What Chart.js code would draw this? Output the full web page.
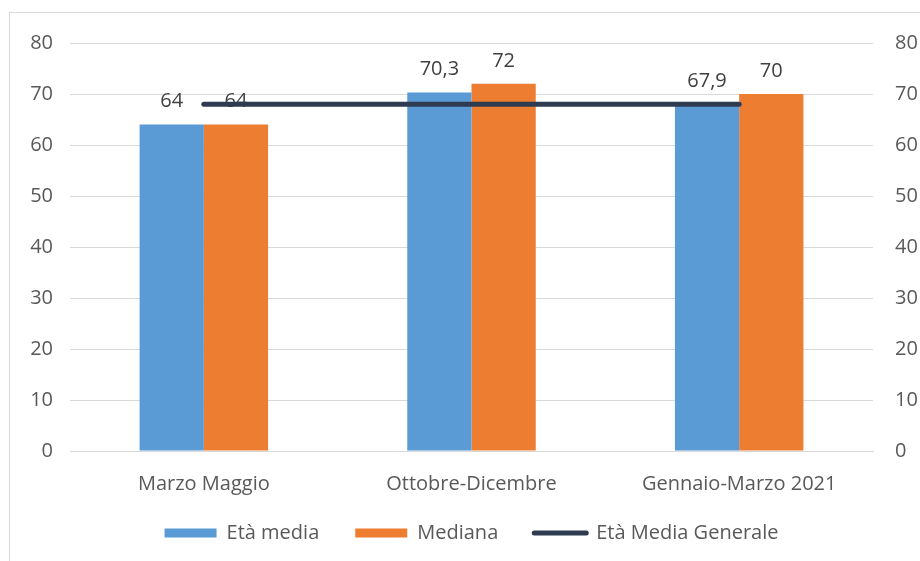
<!DOCTYPE html>
<html>
<head>
<meta charset="utf-8">
<script src="https://cdn.jsdelivr.net/npm/chart.js@4.4.1/dist/chart.umd.min.js"></script>
<style>
  body { margin: 0; background: #fff; }
  .frame { position: absolute; left: 9px; top: 12px; width: 1000px; height: 700px; border: 1px solid #d9d9d9; }
  .wrap { position: absolute; left: 0; top: 0; width: 920px; height: 561px; }
</style>
</head>
<body>
<div class="frame"></div>
<div class="wrap"><canvas id="myChart"></canvas></div>
<script>
const periodi = ['Marzo Maggio', 'Ottobre-Dicembre', 'Gennaio-Marzo 2021'];
const etaMedia = [64, 70.3, 67.9];
const mediana = [64, 72, 70];
const etaMediaGenerale = [68, 68, 68];
const yTicks = [0, 10, 20, 30, 40, 50, 60, 70, 80];

const FONT = "'Open Sans', 'Noto Sans', sans-serif";
const GREY = '#595959';

// numeri sopra le barre, con la virgola decimale
const etichette = {
	id: 'etichette',
	afterDatasetDraw(chart, args) {
		const ds = chart.data.datasets[args.index];
		if (ds.type === 'line') return;
		const ctx = chart.ctx;
		ctx.save();
		ctx.font = '20px ' + FONT;
		ctx.fillStyle = '#404040';
		ctx.textAlign = 'center';
		ctx.textBaseline = 'middle';
		args.meta.data.forEach((el, i) => {
			ctx.fillText(String(ds.data[i]).replace('.', ','), el.x, el.y - 23);
		});
		ctx.restore();
	}
};

const ctx = document.getElementById('myChart');

new Chart(ctx, {
	type: 'bar',
	data: {
		labels: periodi,
		datasets: [{
			label: 'Età media',
			data: etaMedia,
			backgroundColor: '#5B9BD5',
			order: 1
		}, {
			label: 'Mediana',
			data: mediana,
			backgroundColor: '#ED7D31',
			order: 1
		}, {
			type: 'line',
			label: 'Età Media Generale',
			data: etaMediaGenerale,
			borderColor: '#2F3B50',
			backgroundColor: '#2F3B50',
			borderWidth: 5,
			borderCapStyle: 'round',
			pointRadius: 0,
			order: 0
		}]
	},
	options: {
		responsive: true,
		maintainAspectRatio: false,
		animation: false,
		layout: { padding: { top: 43, left: 0, right: 0, bottom: 8 } },
		datasets: {
			bar: { categoryPercentage: 0.48, barPercentage: 1 }
		},
		plugins: {
			tooltip: { enabled: false },
			legend: {
				position: 'bottom',
				fullSize: false,
				labels: {
					usePointStyle: true,
					pointStyleWidth: 52,
					boxHeight: 9,
					padding: 36,
					color: GREY,
					font: { family: FONT, size: 20 },
					sort: (a, b) => a.datasetIndex - b.datasetIndex,
					generateLabels: (chart) => chart.data.datasets.map((ds, i) => ({
						text: ds.label,
						datasetIndex: i,
						fillStyle: ds.backgroundColor,
						strokeStyle: ds.type === 'line' ? ds.borderColor : ds.backgroundColor,
						lineWidth: ds.type === 'line' ? 5 : 0,
						lineCap: 'round',
						pointStyle: ds.type === 'line' ? 'line' : 'rect',
						fontColor: GREY,
						hidden: false
					}))
				}
			}
		},
		scales: {
			x: {
				grid: { display: false },
				border: { display: true, color: '#d9d9d9' },
				// etichette libere sotto l'asse, la fascia resta bassa per la legenda
				afterFit: (s) => { s.height = 36; },
				ticks: { color: GREY, font: { family: FONT, size: 20 }, mirror: true, padding: -45 }
			},
			y: {
				min: 0,
				max: 80,
				afterBuildTicks: (s) => { s.ticks = yTicks.map(v => ({ value: v })); },
				afterFit: (s) => { s.width = 70; },
				grid: { color: '#d9d9d9', drawTicks: false },
				border: { display: false },
				ticks: { color: GREY, font: { family: FONT, size: 20 }, padding: 17 }
			},
			y2: {
				position: 'right',
				min: 0,
				max: 80,
				afterBuildTicks: (s) => { s.ticks = yTicks.map(v => ({ value: v })); },
				afterFit: (s) => { s.width = 47; },
				grid: { display: false },
				border: { display: false },
				ticks: { color: GREY, font: { family: FONT, size: 20 }, padding: 14 }
			}
		}
	},
	plugins: [etichette]
});
</script>
</body>
</html>
